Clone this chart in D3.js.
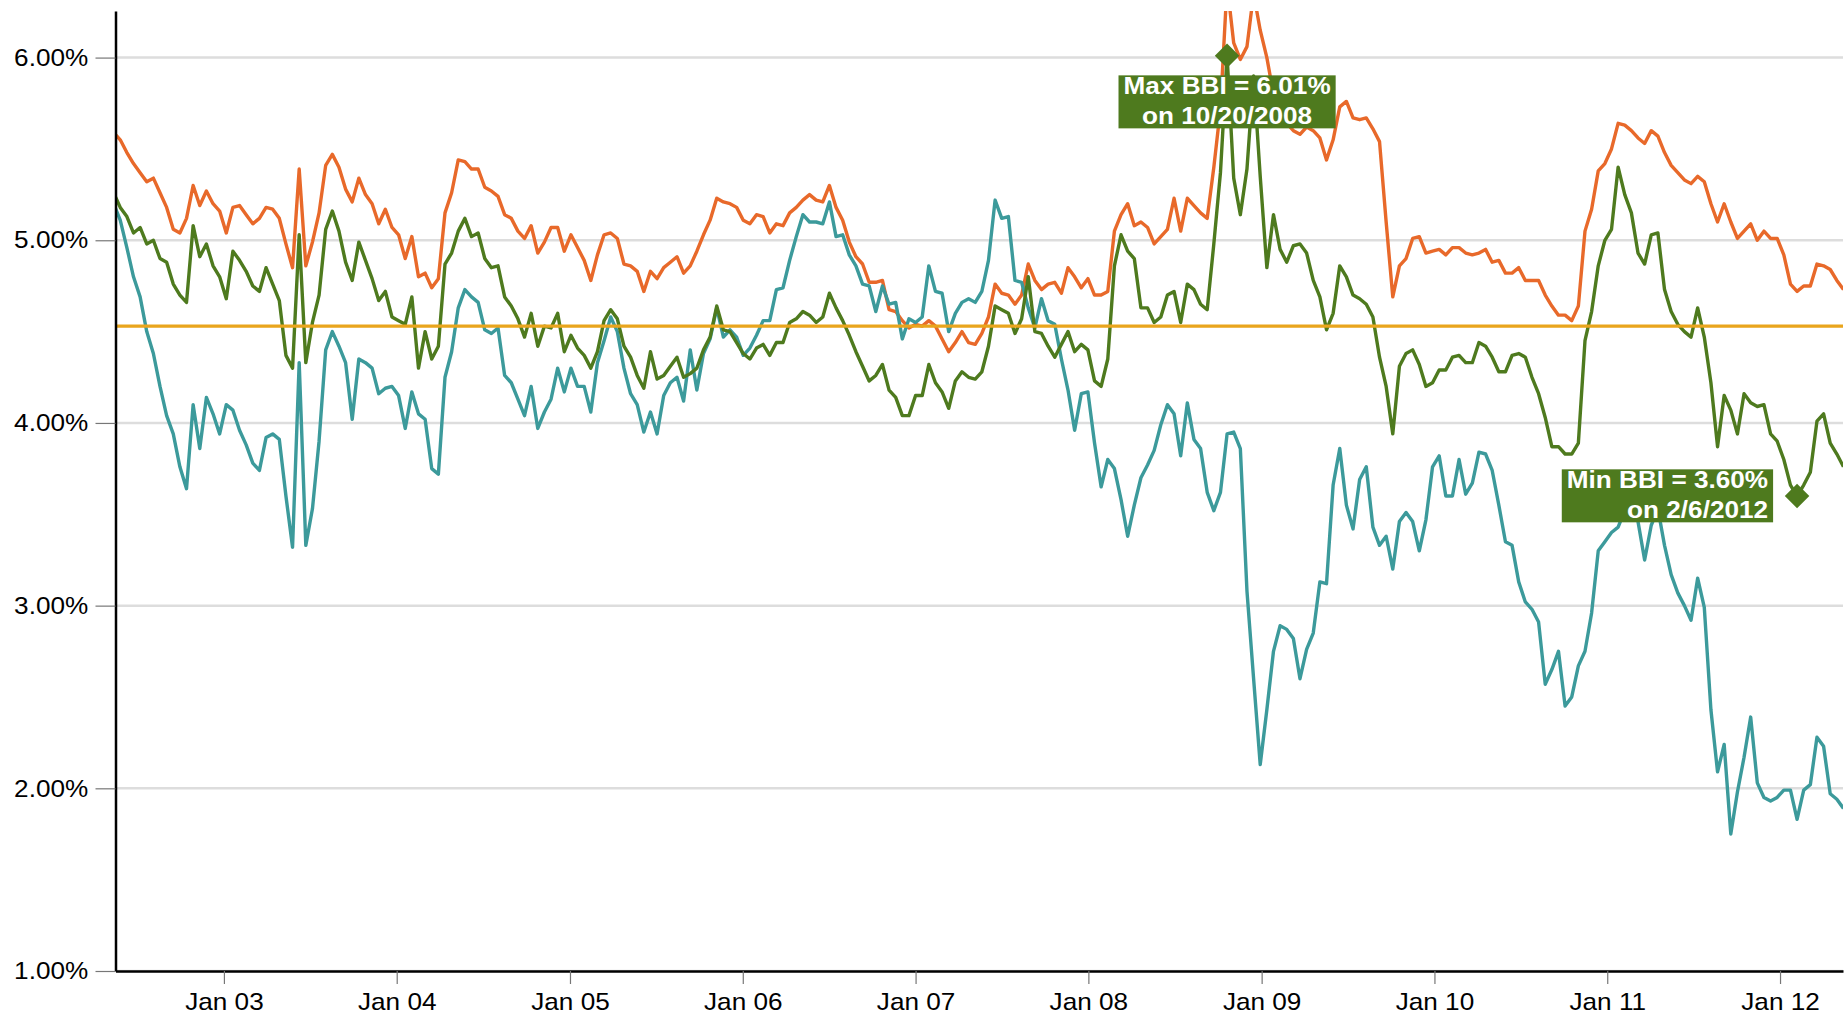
<!DOCTYPE html>
<html>
<head>
<meta charset="utf-8">
<script src="https://cdn.jsdelivr.net/npm/d3@7"></script>
<style>
body { margin: 0; background: #fff; }
svg { display: block; font-family: "Liberation Sans", Arial, sans-serif; }
</style>
</head>
<body>
<svg id="chart" width="1848" height="1018"></svg>
<script>
// biweekly Monday readings, first one on 2002-05-13
const startDate = "2002-05-13"
const stepDays = 14
const domainStart = "2002-05-17"
const domainEnd = "2012-05-13"
const yTicks = [1, 2, 3, 4, 5, 6]
const averageBBI = 4.53

// orange series
const upper = [
	5.59, 5.55, 5.48, 5.42, 5.37, 5.32, 5.34, 5.26, 5.18, 5.06, 5.04, 5.12, 5.30, 5.19, 5.27, 5.20, 5.16, 5.04, 5.18, 5.19,
	5.14, 5.09, 5.12, 5.18, 5.17, 5.12, 4.98, 4.85, 5.39, 4.86, 4.99, 5.15, 5.41, 5.47, 5.40, 5.28, 5.21, 5.34, 5.25, 5.20,
	5.09, 5.17, 5.07, 5.03, 4.90, 5.02, 4.80, 4.82, 4.74, 4.79, 5.15, 5.26, 5.44, 5.43, 5.39, 5.39, 5.29, 5.27, 5.24, 5.14,
	5.12, 5.05, 5.01, 5.08, 4.93, 4.99, 5.07, 5.07, 4.94, 5.03, 4.96, 4.89, 4.78, 4.92, 5.03, 5.04, 5.01, 4.87, 4.86, 4.83,
	4.72, 4.83, 4.79, 4.85, 4.88, 4.91, 4.82, 4.86, 4.94, 5.03, 5.11, 5.23, 5.21, 5.20, 5.18, 5.11, 5.09, 5.14, 5.13, 5.04,
	5.09, 5.08, 5.15, 5.18, 5.22, 5.25, 5.22, 5.21, 5.30, 5.18, 5.11, 4.99, 4.91, 4.87, 4.77, 4.77, 4.78, 4.62, 4.61, 4.56,
	4.52, 4.54, 4.53, 4.56, 4.53, 4.46, 4.39, 4.44, 4.50, 4.44, 4.43, 4.49, 4.58, 4.76, 4.71, 4.70, 4.65, 4.70, 4.87, 4.78,
	4.73, 4.76, 4.77, 4.71, 4.85, 4.80, 4.74, 4.79, 4.70, 4.70, 4.72, 5.05, 5.14, 5.20, 5.08, 5.10, 5.07, 4.98, 5.02, 5.06,
	5.23, 5.05, 5.23, 5.19, 5.15, 5.12, 5.40, 5.72, 6.40, 6.08, 5.99, 6.06, 6.35, 6.15, 6.00, 5.80, 5.70, 5.64, 5.60, 5.58,
	5.62, 5.60, 5.56, 5.44, 5.55, 5.73, 5.76, 5.67, 5.66, 5.67, 5.61, 5.54, 5.10, 4.69, 4.86, 4.90, 5.01, 5.02, 4.93, 4.94,
	4.95, 4.92, 4.96, 4.96, 4.93, 4.92, 4.93, 4.95, 4.88, 4.89, 4.82, 4.82, 4.85, 4.78, 4.78, 4.78, 4.70, 4.64, 4.59, 4.59,
	4.56, 4.64, 5.05, 5.17, 5.38, 5.42, 5.50, 5.64, 5.63, 5.60, 5.56, 5.53, 5.60, 5.57, 5.48, 5.41, 5.37, 5.33, 5.31, 5.35,
	5.32, 5.20, 5.10, 5.20, 5.10, 5.01, 5.05, 5.09, 5.00, 5.05, 5.01, 5.01, 4.92, 4.76, 4.72, 4.75, 4.75, 4.87, 4.86, 4.84,
	4.78, 4.73
]

// green series (BBI)
const bbi = [
	5.26, 5.18, 5.13, 5.04, 5.07, 4.98, 5.00, 4.90, 4.88, 4.76, 4.70, 4.66, 5.08, 4.91, 4.98, 4.86, 4.80, 4.68, 4.94, 4.89,
	4.83, 4.75, 4.72, 4.85, 4.76, 4.67, 4.37, 4.30, 5.03, 4.33, 4.55, 4.70, 5.06, 5.16, 5.05, 4.88, 4.78, 4.99, 4.89, 4.79,
	4.67, 4.72, 4.58, 4.56, 4.54, 4.69, 4.30, 4.50, 4.35, 4.42, 4.87, 4.93, 5.05, 5.12, 5.02, 5.04, 4.90, 4.85, 4.86, 4.69,
	4.64, 4.57, 4.47, 4.60, 4.42, 4.53, 4.52, 4.60, 4.39, 4.48, 4.41, 4.37, 4.30, 4.39, 4.56, 4.62, 4.57, 4.42, 4.36, 4.26,
	4.19, 4.39, 4.24, 4.26, 4.31, 4.36, 4.25, 4.27, 4.30, 4.40, 4.47, 4.64, 4.51, 4.50, 4.44, 4.38, 4.35, 4.41, 4.43, 4.37,
	4.44, 4.44, 4.55, 4.57, 4.61, 4.59, 4.55, 4.58, 4.71, 4.63, 4.56, 4.48, 4.39, 4.31, 4.23, 4.26, 4.32, 4.18, 4.14, 4.04,
	4.04, 4.15, 4.15, 4.32, 4.22, 4.17, 4.08, 4.23, 4.28, 4.25, 4.24, 4.28, 4.42, 4.64, 4.62, 4.60, 4.49, 4.57, 4.80, 4.50,
	4.49, 4.42, 4.36, 4.43, 4.50, 4.39, 4.43, 4.40, 4.23, 4.20, 4.35, 4.86, 5.03, 4.94, 4.90, 4.63, 4.63, 4.55, 4.58, 4.70,
	4.72, 4.55, 4.76, 4.73, 4.65, 4.62, 4.98, 5.37, 6.01, 5.34, 5.14, 5.39, 5.90, 5.35, 4.85, 5.14, 4.95, 4.88, 4.97, 4.98,
	4.93, 4.78, 4.69, 4.51, 4.60, 4.86, 4.80, 4.70, 4.68, 4.65, 4.58, 4.36, 4.20, 3.94, 4.31, 4.38, 4.40, 4.32, 4.20, 4.22,
	4.29, 4.29, 4.36, 4.37, 4.33, 4.33, 4.44, 4.42, 4.36, 4.28, 4.28, 4.37, 4.38, 4.36, 4.25, 4.16, 4.03, 3.87, 3.87, 3.83,
	3.83, 3.89, 4.45, 4.61, 4.86, 5.00, 5.06, 5.40, 5.25, 5.15, 4.93, 4.87, 5.03, 5.04, 4.73, 4.61, 4.54, 4.50, 4.47, 4.63,
	4.47, 4.22, 3.87, 4.15, 4.07, 3.94, 4.16, 4.11, 4.09, 4.10, 3.94, 3.90, 3.80, 3.66, 3.60, 3.66, 3.73, 4.01, 4.05, 3.89,
	3.83, 3.76
]

// teal series
const lower = [
	5.20, 5.11, 4.96, 4.80, 4.69, 4.50, 4.38, 4.20, 4.04, 3.94, 3.76, 3.64, 4.10, 3.86, 4.14, 4.05, 3.94, 4.10, 4.07, 3.96,
	3.88, 3.78, 3.74, 3.92, 3.94, 3.91, 3.60, 3.32, 4.33, 3.33, 3.53, 3.90, 4.40, 4.50, 4.42, 4.33, 4.02, 4.35, 4.33, 4.30,
	4.16, 4.19, 4.20, 4.15, 3.97, 4.17, 4.05, 4.02, 3.75, 3.72, 4.25, 4.39, 4.63, 4.73, 4.69, 4.66, 4.51, 4.49, 4.52, 4.26,
	4.22, 4.13, 4.04, 4.20, 3.97, 4.06, 4.13, 4.30, 4.17, 4.30, 4.20, 4.20, 4.06, 4.33, 4.45, 4.58, 4.50, 4.30, 4.16, 4.10,
	3.95, 4.06, 3.94, 4.15, 4.22, 4.25, 4.12, 4.40, 4.18, 4.38, 4.46, 4.63, 4.47, 4.51, 4.47, 4.37, 4.41, 4.48, 4.56, 4.56,
	4.73, 4.74, 4.89, 5.02, 5.14, 5.10, 5.10, 5.09, 5.21, 5.02, 5.03, 4.92, 4.86, 4.76, 4.75, 4.61, 4.75, 4.65, 4.66, 4.46,
	4.57, 4.55, 4.58, 4.86, 4.72, 4.71, 4.50, 4.60, 4.66, 4.68, 4.66, 4.72, 4.89, 5.22, 5.12, 5.13, 4.78, 4.77, 4.63, 4.52,
	4.68, 4.56, 4.54, 4.35, 4.18, 3.96, 4.16, 4.17, 3.89, 3.65, 3.80, 3.75, 3.58, 3.38, 3.55, 3.70, 3.77, 3.85, 3.99, 4.10,
	4.05, 3.82, 4.11, 3.91, 3.86, 3.62, 3.52, 3.62, 3.94, 3.95, 3.86, 3.08, 2.60, 2.13, 2.43, 2.75, 2.89, 2.87, 2.82, 2.60,
	2.76, 2.85, 3.13, 3.12, 3.66, 3.86, 3.55, 3.42, 3.69, 3.76, 3.43, 3.33, 3.38, 3.20, 3.46, 3.51, 3.46, 3.30, 3.47, 3.76,
	3.82, 3.60, 3.60, 3.80, 3.61, 3.67, 3.84, 3.83, 3.74, 3.55, 3.35, 3.33, 3.13, 3.02, 2.98, 2.91, 2.57, 2.65, 2.75, 2.45,
	2.50, 2.67, 2.75, 2.96, 3.30, 3.35, 3.40, 3.43, 3.52, 3.51, 3.46, 3.25, 3.44, 3.53, 3.33, 3.17, 3.07, 3.00, 2.92, 3.15,
	2.99, 2.43, 2.09, 2.24, 1.75, 1.98, 2.17, 2.39, 2.03, 1.95, 1.93, 1.95, 1.99, 1.99, 1.83, 1.99, 2.02, 2.28, 2.23, 1.97,
	1.94, 1.89
]

const colors = { upper: "#e8692a", bbi: "#4e7a1e", lower: "#3c9a9b", avg: "#e9a51d", grid: "#dddddd" }
const textStretch = 1.09

const parse = d3.utcParse("%Y-%m-%d")
const start = parse(startDate)
const dates = bbi.map((_, i) => d3.utcDay.offset(start, i * stepDays))

const plotLeft = 115.5, plotRight = 1843, plotTop = 11, plotBottom = 971

const x = d3.scaleUtc()
	.domain([parse(domainStart), parse(domainEnd)])
	.range([plotLeft, plotRight])
const y = d3.scaleLinear()
	.domain([1, 6.255])
	.range([plotBottom, plotTop])

const svg = d3.select("#chart")

svg.append("defs")
	.append("clipPath")
	.attr("id", "plot")
	.append("rect")
	.attr("x", plotLeft)
	.attr("y", plotTop)
	.attr("width", plotRight - plotLeft)
	.attr("height", plotBottom - plotTop)

// grid
svg.append("g")
	.selectAll("line")
	.data(yTicks)
	.enter()
	.append("line")
	.attr("x1", plotLeft)
	.attr("x2", plotRight)
	.attr("y1", d => y(d))
	.attr("y2", d => y(d))
	.attr("stroke", colors.grid)
	.attr("stroke-width", 2.5)

const line = d3.line()
	.x((d, i) => x(dates[i]))
	.y(d => y(d))

const plot = svg.append("g").attr("clip-path", "url(#plot)")

const series = [
	{ values: upper, color: colors.upper },
	{ values: lower, color: colors.lower },
	{ values: bbi, color: colors.bbi }
]
plot.selectAll(".series")
	.data(series)
	.enter()
	.append("path")
	.attr("class", "series")
	.attr("d", s => line(s.values))
	.attr("fill", "none")
	.attr("stroke", s => s.color)
	.attr("stroke-width", 3.4)
	.attr("stroke-linejoin", "round")

plot.append("line")
	.attr("x1", plotLeft)
	.attr("x2", plotRight)
	.attr("y1", y(averageBBI))
	.attr("y2", y(averageBBI))
	.attr("stroke", colors.avg)
	.attr("stroke-width", 3.2)

// axes
const yAxis = svg.append("g")
	.attr("transform", `translate(${plotLeft},0)`)
	.call(d3.axisLeft(y)
		.tickValues(yTicks)
		.tickFormat(d => d3.format(".2f")(d) + "%")
		.tickSize(20)
		.tickPadding(5)
		.tickSizeOuter(0))
const xAxis = svg.append("g")
	.attr("transform", `translate(0,${plotBottom})`)
	.call(d3.axisBottom(x)
		.ticks(d3.utcYear.every(1))
		.tickFormat(d3.utcFormat("%b %y"))
		.tickSize(13)
		.tickPadding(9)
		.tickSizeOuter(0))

;[yAxis, xAxis].forEach(axis => {
	axis.select(".domain")
		.attr("stroke", "#000")
		.attr("stroke-width", 2.5)
	axis.selectAll(".tick line")
		.attr("stroke", "#777")
		.attr("stroke-width", 1.2)
	axis.selectAll(".tick text")
		.attr("fill", "#000")
		.style("font-size", "24px")
		.attr("transform", `scale(${textStretch},1)`)
})

// min / max annotations
const fmtPct = d3.format(".2f")
const fmtDate = d => `${d.getUTCMonth() + 1}/${d.getUTCDate()}/${d.getUTCFullYear()}`
const maxI = d3.maxIndex(bbi)
const minI = d3.minIndex(bbi)
const diamond = d3.symbol(d3.symbolSquare, 300)

const annotate = (i, label, anchor, dx, dy) => {
	const cx = x(dates[i]), cy = y(bbi[i])
	svg.append("path")
		.attr("d", diamond())
		.attr("transform", `translate(${cx},${cy}) rotate(45)`)
		.attr("fill", colors.bbi)
	const g = svg.append("g")
		.attr("transform", `translate(${cx + dx},${cy + dy}) scale(${textStretch},1)`)
	const rect = g.append("rect").attr("fill", colors.bbi)
	const text = g.append("text")
		.attr("text-anchor", anchor)
		.attr("fill", "#fff")
		.style("font-size", "24px")
		.style("font-weight", "bold")
	text.append("tspan").attr("x", 0).attr("y", 0)
		.text(`${label} BBI = ${fmtPct(bbi[i])}%`)
	text.append("tspan").attr("x", 0).attr("y", 30)
		.text(`on ${fmtDate(dates[i])}`)
	const bb = text.node().getBBox()
	rect.attr("x", bb.x - 4.6)
		.attr("width", bb.width + 9.2)
		.attr("y", -19)
		.attr("height", 53)
}

annotate(maxI, "Max", "middle", 0, 38.6)
annotate(minI, "Min", "end", -29, -7.7)
</script>
</body>
</html>
